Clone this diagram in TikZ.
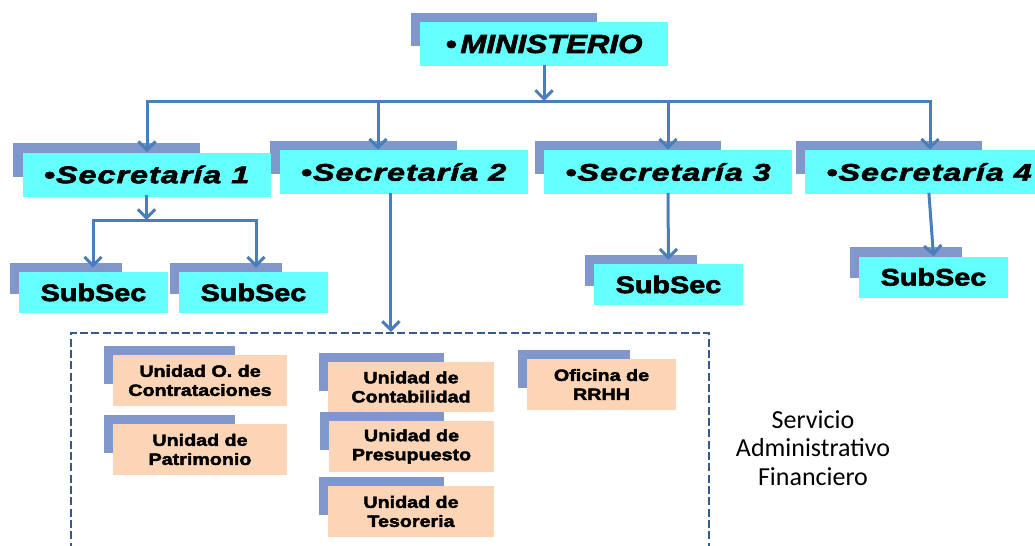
\documentclass[tikz,border=0pt]{standalone}
\usepackage{fontspec}
\setmainfont{Liberation Sans}
\newfontfamily\heavy{Liberation Sans}[UprightFont={* Bold}, ItalicFont={* Bold Italic}, FakeStretch=1.2, FakeBold=2.5]
\newfontfamily\heavysp{Liberation Sans}[UprightFont={* Bold Italic}, FakeStretch=1.35, FakeBold=2.5, LetterSpace=4]
\newfontfamily\calib{Carlito}
\usetikzlibrary{arrows.meta,calc,backgrounds}
\definecolor{arrblue}{RGB}{74,126,187}
\definecolor{shad}{RGB}{128,151,204}
\definecolor{cyanbox}{RGB}{102,255,255}
\definecolor{peach}{RGB}{251,213,181}
\definecolor{dashblue}{RGB}{56,90,135}
\begin{document}
\begin{tikzpicture}[x=0.75pt,y=-0.75pt,
  conn/.style={draw=arrblue, line width=2.25pt, line cap=rect},
  arr/.style={conn, -{Straight Barb[length=6.5pt,width=13pt]}},
  topbox/.style={fill=cyanbox, inner sep=0pt, minimum width=186pt, minimum height=33pt,
    font=\heavysp\fontsize{18}{20}\selectfont},
  minbox/.style={topbox, font=\heavy\itshape\fontsize{19.5}{22}\selectfont},
  subbox/.style={fill=cyanbox, inner sep=0pt, minimum width=111.75pt, minimum height=30.75pt,
    font=\heavy\fontsize{18}{20}\selectfont},
  unibox/.style={fill=peach, inner sep=0pt, minimum height=38.25pt, align=center,
    font=\heavy\fontsize{12.3}{14.3}\selectfont},
  dashbox/.style={draw=dashblue, line width=1.5pt, dash pattern=on 6pt off 2.5pt, inner sep=0pt},
  saftext/.style={align=center, font=\calib\fontsize{19.5}{21.5}\selectfont}
]
\useasboundingbox (0,0) rectangle (1035,546);
\clip (0,0) rectangle (1035,546);

% top level
\node[minbox] (min) at (544,44) {•\kern3pt MINISTERIO};
% secretarias
\node[topbox] (s1) at (146.5,174.5) {•Secretaría 1};
\node[topbox] (s2) at (403.5,172) {•Secretaría 2};
\node[topbox] (s3) at (668,172) {•Secretaría 3};
\node[topbox] (s4) at (929,172) {•Secretaría 4};
% subsecretarias
\node[subbox] (ss1) at (93.5,292.5) {SubSec};
\node[subbox] (ss2) at (253.5,292.5) {SubSec};
\node[subbox] (ss3) at (668.5,284.5) {SubSec};
\node[subbox] (ss4) at (933.5,277) {SubSec};
% servicio administrativo financiero
\node[dashbox, minimum width=478.5pt, minimum height=177.75pt] (saf) at (390,451.5) {};
\node[unibox, minimum width=130.5pt] (u1) at (200,380.5) {Unidad O. de\\Contrataciones};
\node[unibox, minimum width=130.5pt] (u2) at (200,449.5) {Unidad de\\Patrimonio};
\node[unibox, minimum width=124.5pt, minimum height=37.5pt] (u3) at (411,387) {Unidad de\\Contabilidad};
\node[unibox, minimum width=124pt] (u4) at (411.5,446.5) {Unidad de\\Presupuesto};
\node[unibox, minimum width=124.5pt] (u5) at (411,511.5) {Unidad de\\Tesoreria};
\node[unibox, minimum width=111.75pt] (u6) at (601.5,384.5) {Oficina de\\RRHH};
\node[saftext] (sad) at (813,448) {Servicio\\Administrativo\\Financiero};

% shadows
\begin{scope}[on background layer]
\foreach \n in {min,s1,s2,s3,s4,ss1,ss2,ss3,ss4,u1,u2,u3,u4,u5,u6}
  \fill[shad] ($(\n.north west)+(-9,-9)$) rectangle ($(\n.north west)!0.75!(\n.south east)+(-9,-9)$);
\end{scope}

% connectors
\coordinate (b1) at (147,101);
\coordinate (b2) at (378,101);
\coordinate (b3) at (668,101);
\coordinate (b4) at (930,101);
\draw[arr] (min.south) -- (min.south |- b1);
\draw[conn] (b1) -- (b4);
\draw[arr] (b1) -- (b1 |- s1.north);
\draw[arr] (b2) -- (b2 |- s2.north);
\draw[arr] (b3) -- (b3 |- s3.north);
\draw[arr] (b4) -- (b4 |- s4.north);

\coordinate (t1) at (93,220);
\coordinate (t2) at (256,220);
\draw[arr] (s1.south) -- (s1.south |- t1);
\draw[conn] (t1) -- (t2);
\draw[arr, shorten >=3pt] (t1) -- (t1 |- ss1.north);
\draw[arr, shorten >=3pt] (t2) -- (t2 |- ss2.north);

\draw[arr] ([xshift=-9.4pt]s2.south) -- ([xshift=-9.4pt]s2.south |- saf.north);
\draw[arr, shorten >=3pt] (s3.south) -- (ss3.north);
\draw[arr] (s4.south) -- (ss4.north);
\end{tikzpicture}
\end{document}
